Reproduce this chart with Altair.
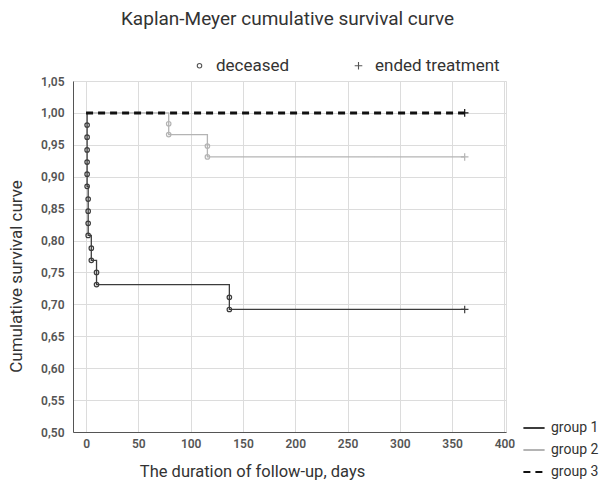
import altair as alt
import pandas as pd

groups = ["group 1", "group 2", "group 3"]
events = ["deceased", "ended treatment"]

# step-curve vertices (day, cumulative survival)
g1_days = [0, 1, 2, 5, 10, 137, 362]
g1_surv = [1.0, 0.885, 0.808, 0.769, 0.731, 0.692, 0.692]
g2_days = [0, 79, 116, 362]
g2_surv = [1.0, 0.966, 0.931, 0.931]
g3_days = [0, 362]
g3_surv = [1.0, 1.0]

# deaths (open circles)
g1_death_days = [1, 1, 1, 1, 1, 1, 2, 2, 2, 2, 5, 5, 10, 10, 137, 137]
g1_death_surv = [0.981, 0.962, 0.942, 0.923, 0.904, 0.885, 0.865, 0.846,
                 0.827, 0.808, 0.788, 0.769, 0.750, 0.731, 0.711, 0.692]
g2_death_days = [79, 79, 116, 116]
g2_death_surv = [0.983, 0.966, 0.948, 0.931]

# censored (ended treatment)
cens_groups = ["group 1", "group 2", "group 3"]
cens_days = [362, 362, 362]
cens_surv = [0.692, 0.931, 1.0]

x_ticks = [0, 50, 100, 150, 200, 250, 300, 350, 400]
y_ticks = [0.50, 0.55, 0.60, 0.65, 0.70, 0.75, 0.80, 0.85, 0.90, 0.95, 1.00, 1.05]

lines = pd.concat([
    pd.DataFrame({"group": "group 1", "day": g1_days, "surv": g1_surv}),
    pd.DataFrame({"group": "group 2", "day": g2_days, "surv": g2_surv}),
    pd.DataFrame({"group": "group 3", "day": g3_days, "surv": g3_surv}),
], ignore_index=True)

points = pd.concat([
    pd.DataFrame({"group": "group 1", "day": g1_death_days, "surv": g1_death_surv, "event": "deceased"}),
    pd.DataFrame({"group": "group 2", "day": g2_death_days, "surv": g2_death_surv, "event": "deceased"}),
    pd.DataFrame({"group": cens_groups, "day": cens_days, "surv": cens_surv, "event": "ended treatment"}),
], ignore_index=True)

FONT = "Roboto"

x_enc = alt.X("day:Q",
              scale=alt.Scale(domain=[-12.5, 401.5], nice=False, zero=False),
              axis=alt.Axis(values=x_ticks, tickCount=20, title="The duration of follow-up, days",
                            titleX=179, titleY=44, titleBaseline="alphabetic",
                            titleFontSize=16.5, titleFont=FONT, titleColor="#333",
                            titleFontWeight="normal",
                            labelFont=FONT, labelFontSize=12, labelColor="#555",
                            labelFontWeight=600, labelPadding=6, labelOverlap=False,
                            ticks=False, domainColor="#555", grid=True,
                            gridColor="#dcdcdc", labelFlush=False))
y_enc = alt.Y("surv:Q",
              scale=alt.Scale(domain=[0.5, 1.05], nice=False, zero=False),
              axis=alt.Axis(values=y_ticks, tickCount=20, title="Cumulative survival curve",
                            labelExpr="replace(format(datum.value, '.2f'), '.', ',')",
                            titleX=-52, titleY=195, titleBaseline="alphabetic",
                            titleFontSize=17, titleFont=FONT, titleColor="#333",
                            titleFontWeight="normal",
                            labelFont=FONT, labelFontSize=12, labelColor="#555",
                            labelFontWeight=600, labelPadding=9, labelOverlap=False,
                            ticks=False, domainColor="#555", grid=True,
                            gridColor="#dcdcdc", labelFlush=False))

grp_legend = alt.Legend(title=None, orient="none", legendX=449, legendY=335,
                        symbolType="stroke", symbolSize=450, symbolStrokeWidth=2.2,
                        labelFont=FONT, labelFontSize=14, labelColor="#333",
                        labelOffset=5, rowPadding=3, padding=0)

line_layer = alt.Chart(lines).mark_line(interpolate="step-after").encode(
    x=x_enc, y=y_enc,
    color=alt.Color("group:N", scale=alt.Scale(domain=groups, range=["#3c3c3c", "#b4b4b4", "#111111"]),
                    legend=grp_legend),
    strokeDash=alt.StrokeDash("group:N", scale=alt.Scale(domain=groups, range=[[1, 0], [1, 0], [7, 5]]),
                              legend=grp_legend),
    strokeWidth=alt.condition(alt.datum.group == "group 3", alt.value(3.0), alt.value(1.3)),
    detail="group:N",
)

point_layer = alt.Chart(points).mark_point(filled=False, strokeWidth=1.2, opacity=1, size=20).encode(
    x="day:Q", y="surv:Q",
    color=alt.Color("group:N", legend=None),
    shape=alt.Shape("event:N",
                    scale=alt.Scale(domain=events, range=["circle", "M-1.7,0L1.7,0M0,-1.7L0,1.7"]),
                    legend=alt.Legend(title=None, orient="none", direction="horizontal",
                                      legendX=118, legendY=-24, padding=0,
                                      symbolSize=20, symbolStrokeColor="#555",
                                      symbolStrokeWidth=1.1,
                                      labelFont=FONT, labelFontSize=17, labelColor="#333",
                                      labelOffset=8, columnPadding=60)),
)

chart = alt.layer(line_layer, point_layer).properties(
    width=433, height=351,
    title=alt.TitleParams("Kaplan-Meyer cumulative survival curve", fontSize=19, font=FONT,
                          color="#333", fontWeight="normal", anchor="middle", dx=-2, offset=28),
    autosize=alt.AutoSizeParams(type="none"),
    padding={"left": 73, "top": 81, "right": 101, "bottom": 56},
).configure_view(stroke="#555", strokeWidth=1).configure(background="white")

chart.save("out.html", embed_options={"renderer": "svg", "actions": False})
